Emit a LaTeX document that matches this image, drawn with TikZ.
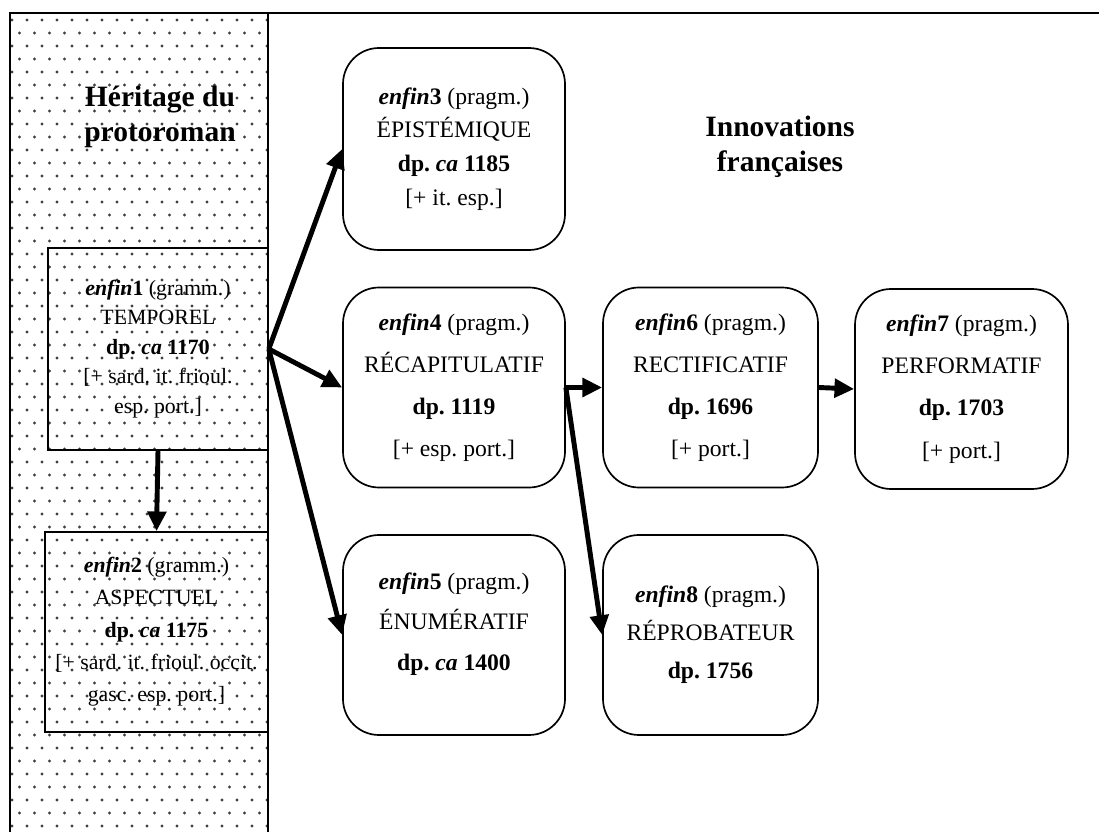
\documentclass[tikz,border=0pt]{standalone}
\usepackage{fontspec}
\setmainfont{Liberation Serif}
\usetikzlibrary{arrows.meta}
\frenchspacing
\newcommand{\enfin}[1]{\textbf{\textit{enfin}#1}}

\tikzset{
  oldbox/.style={draw, line width=1.1pt, minimum width=5.5cm, minimum height=5cm,
    align=center, font=\fontsize{15.5}{21}\selectfont},
  newbox/.style={draw, line width=1.2pt, rounded corners=0.9cm, minimum width=5.5cm,
    minimum height=5cm, align=center, font=\fontsize{16.8}{24}\selectfont},
  arr/.style={line width=3.5pt, -{Triangle[length=14pt,width=13pt]}},
  heading/.style={align=center, font=\fontsize{21}{25}\selectfont\bfseries}
}

\begin{document}
\begin{tikzpicture}
  \useasboundingbox (0,0) rectangle (27.475,20.8);

  % Dotted panel: inherited from protoroman
  \begin{scope}
    \clip (0.25,0) rectangle (6.7,20.475);
    \foreach \j in {0,...,62} {
      \pgfmathsetmacro{\off}{mod(\j,2)*0.1875}
      \foreach \i in {0,...,17}
        \fill[black!75] (0.3+\i*0.375+\off, 0.15+\j*0.325) circle (0.04);
    }
  \end{scope}
  \draw[line width=1.2pt] (0.25,0) -- (0.25,20.475) -- (27.475,20.475);
  \draw[line width=1.2pt] (6.7,0) -- (6.7,20.475);

  % Headings
  \node[heading] (herit) at (4.0,17.875) {Héritage du\\protoroman};
  \node[heading] (innov) at (19.5,17.125) {Innovations\\françaises};

  % Grammatical uses
  \node[oldbox, minimum width=5.5cm, minimum height=5.05cm] (e1) at (3.95,12.075)
    {\enfin{1} (gramm.)\\TEMPOREL\\\textbf{dp. \textit{ca} 1170}\\{}[+ sard. it. frioul.\\esp. port.]};
  \node[oldbox, minimum width=5.575cm, font=\fontsize{15.5}{23}\selectfont] (e2) at (3.9125,5.0)
    {\enfin{2} (gramm.)\\ASPECTUEL\\\textbf{dp. \textit{ca} 1175}\\{}[+ sard. it. frioul. occit.\\gasc. esp. port.]};

  % Pragmatic uses
  \node[newbox, minimum width=5.55cm, minimum height=5.05cm] (e3) at (11.35,17.075)
    {\enfin{3} (pragm.)\\ÉPISTÉMIQUE\\\textbf{dp. \textit{ca} 1185}\\{}[+ it. esp.]};
  \node[newbox, minimum width=5.55cm, font=\fontsize{16.8}{30}\selectfont] (e4) at (11.35,11.1125)
    {\enfin{4} (pragm.)\\RÉCAPITULATIF\\\textbf{dp. 1119}\\{}[+ esp. port.]};
  \node[newbox, minimum width=5.55cm, font=\fontsize{16.8}{29}\selectfont] (e5) at (11.35,4.925)
    {\enfin{5} (pragm.)\\ÉNUMÉRATIF\\\textbf{dp. \textit{ca} 1400}\\[-10pt]\mbox{}};
  \node[newbox, minimum width=5.375cm, font=\fontsize{16.8}{30}\selectfont] (e6) at (17.7625,11.1125)
    {\enfin{6} (pragm.)\\RECTIFICATIF\\\textbf{dp. 1696}\\{}[+ port.]};
  \node[newbox, minimum width=5.325cm, font=\fontsize{16.8}{30}\selectfont] (e7) at (24.0375,11.075)
    {\enfin{7} (pragm.)\\PERFORMATIF\\\textbf{dp. 1703}\\{}[+ port.]};
  \node[newbox, minimum width=5.375cm, font=\fontsize{16.8}{27}\selectfont] (e8) at (17.7625,4.925)
    {\enfin{8} (pragm.)\\RÉPROBATEUR\\\textbf{dp. 1756}};

  % Arrows
  \draw[arr] (e1.south) -- (e2.north);
  \draw[arr] (e1.east) -- (e3.west);
  \draw[arr] (e1.east) -- (e4.west);
  \draw[arr] (e1.east) -- (e5.west);
  \draw[arr] (e4.east) -- (e6.west);
  \draw[arr] (e4.east) -- (e8.west);
  \draw[arr] (e6.east) -- (e7.west);
\end{tikzpicture}
\end{document}
